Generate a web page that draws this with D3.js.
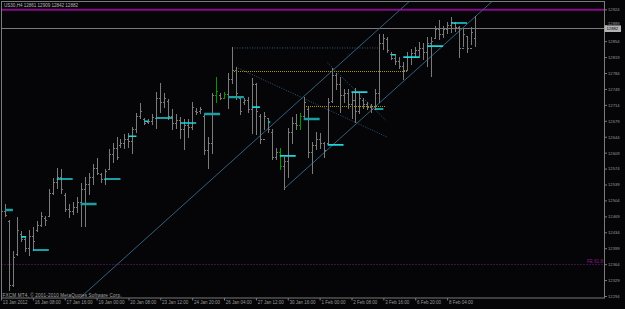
<!DOCTYPE html>
<html><head><meta charset="utf-8">
<script src="https://cdn.jsdelivr.net/npm/d3@7/dist/d3.min.js"></script>
<style>html,body{margin:0;padding:0;background:#050507;overflow:hidden}svg{display:block}</style>
</head><body><svg id="c" width="625" height="309"></svg>
<script>
// ---- DATA ----
const title = "US30,H4  12861 12909 12842 12882";
const copyright = "FXCM MT4, \u00A9 2001-2010 MetaQuotes Software Corp.";
const highs = [12499,12494,12461,12391,12466,12435,12422,12439,12444,12457,12477,12468,12527,12553,12575,12571,12520,12494,12499,12510,
12542,12555,12564,12582,12597,12564,12571,12615,12630,12643,12637,12648,12652,12665,12696,12718,12685,12681,12692,12742,
12762,12740,12725,12703,12692,12687,12681,12681,12720,12707,12709,12692,12643,12740,12775,12740,12742,12784,12839,12797,
12731,12729,12731,12773,12762,12692,12698,12685,12659,12619,12619,12599,12663,12687,12692,12696,12731,12709,12632,12654,
12652,12632,12729,12795,12784,12775,12747,12747,12742,12751,12740,12729,12720,12714,12747,12868,12868,12863,12828,12824,
12819,12808,12828,12835,12841,12850,12848,12861,12861,12887,12900,12887,12896,12907,12896,12887,12879,12863,12883,12909];
const lows = [12461,12468,12307,12314,12384,12413,12391,12384,12395,12435,12446,12450,12468,12516,12531,12520,12479,12466,12472,12477,
12446,12446,12516,12538,12560,12544,12538,12571,12588,12593,12621,12619,12621,12608,12654,12685,12670,12674,12670,12663,
12698,12709,12681,12659,12663,12641,12615,12643,12659,12692,12696,12604,12575,12608,12720,12725,12729,12707,12762,12725,
12692,12714,12698,12652,12648,12630,12659,12654,12593,12593,12571,12529,12555,12630,12659,12659,12685,12599,12564,12615,
12619,12599,12626,12720,12747,12698,12720,12707,12685,12676,12696,12707,12703,12698,12703,12720,12835,12830,12813,12802,
12795,12769,12791,12802,12817,12819,12813,12799,12777,12861,12857,12863,12870,12874,12876,12817,12843,12828,12846,12842];
const opens = [12490,12480,12459,12318,12386,12430,12420,12400,12425,12440,12450,12465,12470,12520,12545,12555,12515,12485,12480,12490,
12500,12530,12540,12555,12575,12562,12550,12572,12605,12620,12625,12630,12640,12635,12660,12690,12682,12676,12678,12685,
12730,12720,12722,12690,12675,12680,12660,12670,12665,12700,12700,12690,12615,12630,12735,12735,12730,12738,12770,12790,
12730,12720,12725,12705,12760,12690,12640,12685,12655,12600,12610,12580,12590,12655,12675,12670,12690,12705,12610,12625,
12640,12630,12630,12722,12780,12760,12735,12740,12715,12725,12700,12725,12715,12710,12705,12740,12850,12858,12825,12818,
12810,12800,12790,12820,12828,12835,12840,12830,12850,12862,12880,12870,12880,12890,12893,12885,12840,12865,12840,12861];
const closes = [12480,12472,12318,12380,12440,12420,12400,12425,12415,12450,12470,12460,12520,12545,12555,12530,12485,12480,12490,12500,
12530,12540,12555,12575,12565,12550,12568,12605,12620,12600,12630,12640,12635,12660,12690,12700,12675,12678,12688,12730,
12720,12730,12690,12675,12680,12660,12670,12665,12710,12698,12705,12615,12630,12735,12745,12730,12738,12770,12790,12740,
12700,12725,12705,12760,12700,12640,12690,12660,12600,12610,12580,12590,12655,12675,12670,12690,12720,12610,12625,12640,
12630,12615,12720,12780,12760,12735,12740,12715,12725,12700,12730,12715,12710,12705,12740,12850,12860,12835,12818,12810,
12800,12790,12820,12828,12835,12840,12830,12850,12855,12880,12870,12880,12890,12895,12885,12840,12870,12840,12875,12882];
const greenBars = [54,56,70,75];
const timeLabels = ["13 Jan 2012","16 Jan 08:00","17 Jan 16:00","19 Jan 00:00","20 Jan 08:00","23 Jan 12:00","24 Jan 20:00",
"26 Jan 04:00","27 Jan 12:00","30 Jan 16:00","1 Feb 00:00","2 Feb 08:00","3 Feb 16:00","6 Feb 20:00","8 Feb 04:00"];
const timeLabelBars = [0,8,16,24,32,40,48,56,64,72,80,88,96,104,112];
const priceTicks = [12924,12889,12854,12819,12784,12749,12714,12679,12644,12609,12574,12539,12504,12469,12434,12399,12364,12329,12294];
const lastPrice = 12882;
const resistancePrice = 12923;
const fePrice = 12364;
const feLabel = "FE 61.8";
// daily level segments: start bar, end bar, price, heavy?
const segStart = [1,5,8,14,20,26,32,36,39,45,51,57,63,67,70,76,82,88,94,98,101,107,113];
const segEnd   = [3,6.3,12,18,24,30,34,37,43,49,55,61,65,67.6,74,80,86,92,96,99,105,111,117];
const segPrice = [12483,12424,12395,12551,12496,12551,12645,12678,12685,12674,12694,12731,12709,12676,12602,12683,12626,12742,12705,12824,12819,12843,12894];
const segHeavy = [1,0,0,0,1,0,0,0,0,0,1,1,0,1,0,1,0,0,0,0,0,0,0];
// channel
const channelBar = 71, channelUpper = 12693, channelLower = 12529, channelSlope = 7.88;
// dotted lines: [bar0, price0, bar1, price1]
const blueDotted = [[58,12839,95,12839],[59,12797,97,12643],[82,12806,96.5,12681]];
const goldDotted = [[58,12788,102,12788],[76,12711,96.5,12711]];

// ---- DRAW ----
const W=625,H=309, L=1.5, R=604.5, T=1.5, B=298;
const svg=d3.select('#c');
svg.append('rect').attr('width',W).attr('height',H).attr('fill','#050507');
const x=d3.scaleLinear().domain([0,151]).range([1,1+151*3.983]);
const y=d3.scaleLinear().domain([12294,12924]).range([296,9.3]);
svg.append('defs').append('clipPath').attr('id','clip').append('rect')
  .attr('x',L).attr('y',T).attr('width',R-L).attr('height',B-T);
const plot=svg.append('g').attr('clip-path','url(#clip)');
const font="'Liberation Sans', Arial, sans-serif";

// horizontal lines
plot.append('line').attr('x1',L).attr('x2',R).attr('y1',y(resistancePrice)).attr('y2',y(resistancePrice))
  .attr('stroke','#8a0a8a').attr('stroke-width',2);
plot.append('line').attr('x1',L).attr('x2',R).attr('y1',Math.round(y(lastPrice))+0.5).attr('y2',Math.round(y(lastPrice))+0.5)
  .attr('stroke','#7a7a7a').attr('stroke-width',1);
plot.append('line').attr('x1',L).attr('x2',R).attr('y1',Math.round(y(fePrice))+0.5).attr('y2',Math.round(y(fePrice))+0.5)
  .attr('stroke','#7a1a7a').attr('stroke-width',1).attr('stroke-dasharray','1,2');
svg.append('text').attr('x',603).attr('y',y(fePrice)-0.8).attr('text-anchor','end')
  .attr('font-family',font).attr('font-size',4.6).attr('fill','#8a1a8a').text(feLabel);

// channel
const chLine = d3.line().x(d=>x(d[0])).y(d=>y(d[1]));
plot.append('path').attr('d',chLine([[0,channelUpper-channelSlope*channelBar],[151,channelUpper+channelSlope*(151-channelBar)]]))
  .attr('fill','none').attr('stroke','#36607e').attr('stroke-width',1);
plot.append('path').attr('d',chLine([[channelBar,channelLower],[151,channelLower+channelSlope*(151-channelBar)]]))
  .attr('fill','none').attr('stroke','#36607e').attr('stroke-width',1);

// dotted lines
plot.selectAll('.bd').data(blueDotted).enter().append('line')
  .attr('x1',d=>x(d[0])).attr('y1',d=>y(d[1])).attr('x2',d=>x(d[2])).attr('y2',d=>y(d[3]))
  .attr('stroke','#2f5a7c').attr('stroke-width',1).attr('stroke-dasharray','1,1.5');
plot.selectAll('.gd').data(goldDotted).enter().append('line')
  .attr('x1',d=>Math.round(x(d[0]))).attr('y1',d=>Math.round(y(d[1]))+0.5).attr('x2',d=>Math.round(x(d[2]))).attr('y2',d=>Math.round(y(d[1]))+0.5)
  .attr('shape-rendering','crispEdges')
  .attr('stroke','#b39200').attr('stroke-width',1).attr('stroke-dasharray','1,1');

// bars
const bars=d3.range(highs.length);
const gb=plot.append('g').attr('shape-rendering','crispEdges');
const col=i=>greenBars.includes(i)?'#009a00':'#7b7b7b';
const cx=i=>Math.round(x(i))+0.5;
gb.selectAll('.hl').data(bars).enter().append('line')
  .attr('x1',cx).attr('x2',cx).attr('y1',i=>Math.floor(y(highs[i]))).attr('y2',i=>Math.ceil(y(lows[i])))
  .attr('stroke',col).attr('stroke-width',1);
gb.selectAll('.op').data(bars).enter().append('line')
  .attr('x1',i=>cx(i)-1.5).attr('x2',i=>cx(i)).attr('y1',i=>Math.round(y(opens[i]))+0.5).attr('y2',i=>Math.round(y(opens[i]))+0.5)
  .attr('stroke',col).attr('stroke-width',1);
gb.selectAll('.cl').data(bars).enter().append('line')
  .attr('x1',i=>cx(i)).attr('x2',i=>cx(i)+1.5).attr('y1',i=>Math.round(y(closes[i]))+0.5).attr('y2',i=>Math.round(y(closes[i]))+0.5)
  .attr('stroke',col).attr('stroke-width',1);

// level segments
plot.selectAll('.seg').data(segStart.map((s,k)=>k)).enter().append('line')
  .attr('x1',k=>x(segStart[k])).attr('x2',k=>x(segEnd[k])).attr('y1',k=>y(segPrice[k])).attr('y2',k=>y(segPrice[k]))
  .attr('stroke',k=>segHeavy[k]?'#1a9ea0':'#1fd6da').attr('stroke-width',k=>segHeavy[k]?2.4:1.6);

// frame
svg.append('rect').attr('x',L).attr('y',T).attr('width',R-L).attr('height',B-T)
  .attr('fill','none').attr('stroke','#7a7a7a').attr('stroke-width',1);

// price axis
const ay=svg.append('g').attr('transform',`translate(${R},0)`)
  .call(d3.axisRight(y).tickValues(priceTicks).tickSize(2.5).tickPadding(1).tickFormat(d3.format('d')));
ay.select('.domain').remove();
ay.selectAll('line').attr('stroke','#7a7a7a');
ay.selectAll('text').attr('fill','#9a9a9a').attr('font-family',font).attr('font-size',4.2);
ay.selectAll('.tick').filter(d=>d===12889).select('text').attr('y',-2.2);

// current price box
const ly=y(lastPrice);
svg.append('rect').attr('x',R).attr('y',ly-3.0).attr('width',16.5).attr('height',6.6).attr('fill','#b4b4b4');
svg.append('text').attr('x',R+2).attr('y',ly+1.9).attr('font-family',font).attr('font-size',4.2).attr('fill','#000')
  .text(d3.format('d')(lastPrice));

// time axis
const ax=svg.append('g').attr('transform',`translate(0,${B})`)
  .call(d3.axisBottom(x).tickValues(timeLabelBars).tickSize(2.5).tickFormat((d,i)=>timeLabels[i]));
ax.select('.domain').remove();
ax.selectAll('line').attr('stroke','#7a7a7a');
ax.selectAll('text').attr('text-anchor','start').attr('x',1.3).attr('y',2.6).attr('dy','0.71em')
  .attr('fill','#9a9a9a').attr('font-family',font).attr('font-size',4.5);

// texts
svg.append('text').attr('x',4).attr('y',6.6).attr('font-family',font).attr('font-size',4.6)
  .attr('fill','#b8b8b8').attr('textLength',74).text(title);
svg.append('text').attr('x',2.5).attr('y',297.2).attr('font-family',font).attr('font-size',4.6)
  .attr('fill','#a8a8a8').attr('textLength',119).text(copyright);
</script></body></html>
